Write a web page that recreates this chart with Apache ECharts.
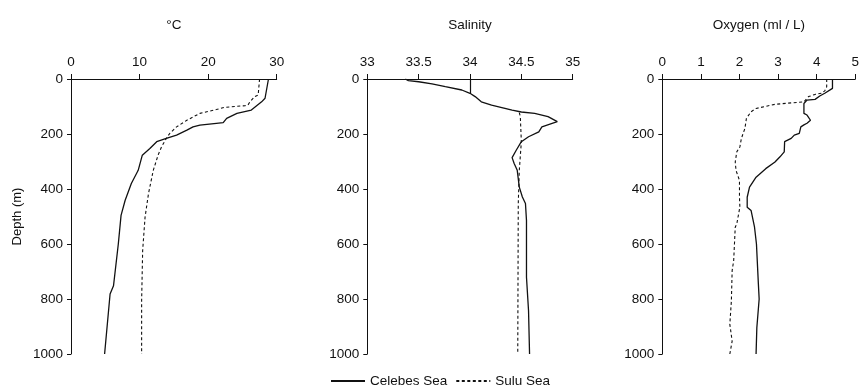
<!DOCTYPE html>
<html>
<head>
<meta charset="utf-8">
<script src="https://cdn.jsdelivr.net/npm/echarts@6/dist/echarts.min.js"></script>
<style>html,body{margin:0;padding:0;background:#fff;}#c{width:862px;height:386px;}</style>
</head>
<body>
<div id="c"></div>
<script>
// Depth axis ticks
var depthTicks = [0, 200, 400, 600, 800, 1000];

// Temperature (°C)
var celebesTempDepth = [0, 70, 83, 113, 118, 125, 143, 159, 161, 168, 174, 186, 204, 216, 228, 253, 277, 332, 380, 441, 496, 600, 752, 782, 1000];
var celebesTemp      = [28.8, 28.3, 27.8, 26.3, 26.1, 24.2, 22.7, 22.2, 21.2, 18.8, 17.8, 16.9, 15.4, 13.9, 12.5, 11.5, 10.4, 9.8, 8.8, 7.9, 7.3, 6.9, 6.2, 5.7, 4.9];
var suluTempDepth = [0, 58, 64, 83, 95, 97, 103, 111, 125, 150, 174, 198, 216, 247, 277, 332, 417, 503, 624, 807, 1000];
var suluTemp      = [27.5, 27.3, 26.8, 26.1, 25.8, 25.4, 22.4, 21.2, 18.8, 16.9, 15.4, 14.4, 13.9, 13.2, 12.7, 12.0, 11.3, 10.8, 10.45, 10.3, 10.3];

// Salinity
var celebesSalDepth = [0, 6, 10, 18, 28, 40, 52, 64, 83, 95, 104, 113, 120, 125, 137, 155, 174, 192, 210, 228, 259, 286, 307, 332, 393, 400, 429, 453, 514, 721, 843, 1000];
var celebesSal      = [33.37, 33.40, 33.50, 33.63, 33.76, 33.92, 34.00, 34.05, 34.11, 34.21, 34.31, 34.41, 34.50, 34.63, 34.76, 34.85, 34.70, 34.67, 34.57, 34.50, 34.45, 34.41, 34.43, 34.46, 34.48, 34.49, 34.51, 34.54, 34.55, 34.55, 34.57, 34.58];
var suluSalDepth = [122, 137, 228, 332, 453, 1000];
var suluSal      = [34.48, 34.49, 34.50, 34.48, 34.47, 34.465];

// Oxygen (ml / L)
var celebesOxyDepth = [0, 34, 40, 52, 62, 74, 77, 89, 125, 131, 150, 161, 167, 174, 198, 204, 216, 228, 265, 283, 302, 326, 357, 393, 430, 466, 478, 539, 600, 746, 800, 904, 1000];
var celebesOxy      = [4.41, 4.41, 4.37, 4.21, 4.08, 3.96, 3.75, 3.67, 3.67, 3.75, 3.84, 3.75, 3.67, 3.59, 3.55, 3.42, 3.34, 3.17, 3.16, 3.05, 2.92, 2.68, 2.43, 2.26, 2.20, 2.20, 2.30, 2.39, 2.44, 2.49, 2.51, 2.45, 2.43];
var suluOxyDepth = [0, 28, 43, 52, 56, 64, 83, 89, 92, 107, 119, 143, 180, 216, 247, 265, 302, 332, 369, 430, 466, 527, 539, 660, 697, 807, 892, 953, 1000];
var suluOxy      = [4.26, 4.26, 4.21, 4.12, 3.96, 3.79, 3.67, 3.63, 2.92, 2.43, 2.30, 2.18, 2.14, 2.05, 2.01, 1.93, 1.89, 1.91, 2.00, 2.00, 2.01, 1.93, 1.89, 1.85, 1.81, 1.79, 1.75, 1.81, 1.75];

function pairs(vals, depths) {
  return vals.map(function (v, i) { return [v, depths[i]]; });
}

var FONT = "'Liberation Sans', Arial, Helvetica, sans-serif";
var INK = '#111';
var labelStyle = { color: INK, fontSize: 13.5, fontFamily: FONT, formatter: function (v) { return String(v); } };

function xAx(idx, name, min, max, interval) {
  return {
    gridIndex: idx, type: 'value', position: 'top', min: min, max: max, interval: interval,
    name: name, nameLocation: 'middle', nameGap: 47,
    nameTextStyle: { color: INK, fontSize: 13.5, fontFamily: FONT },
    axisLine: { show: true, onZero: false, lineStyle: { color: INK, width: 1 } },
    axisTick: { show: true, inside: false, length: 5, lineStyle: { color: INK } },
    axisLabel: Object.assign({ margin: 10 }, labelStyle),
    splitLine: { show: false }
  };
}
function yAx(idx, showName) {
  return {
    gridIndex: idx, type: 'value', inverse: true, min: depthTicks[0], max: depthTicks[depthTicks.length - 1], interval: 200,
    name: showName ? 'Depth (m)' : '', nameLocation: 'middle', nameGap: 47,
    nameTextStyle: { color: INK, fontSize: 13, fontFamily: FONT },
    axisLine: { show: true, onZero: false, lineStyle: { color: INK, width: 1 } },
    axisTick: { show: true, inside: false, length: 4, lineStyle: { color: INK } },
    axisLabel: Object.assign({ margin: 8 }, labelStyle),
    splitLine: { show: false }
  };
}
function ser(name, idx, data, dashed, extra) {
  var s = {
    name: name, type: 'line', xAxisIndex: idx, yAxisIndex: idx, data: data,
    symbol: 'none', smooth: false, animation: false,
    lineStyle: { color: INK, width: dashed ? 1.1 : 1.3, type: dashed ? [3, 2.5] : 'solid' },
    itemStyle: { color: INK }
  };
  return Object.assign(s, extra || {});
}

var chart = echarts.init(document.getElementById('c'), null, { renderer: 'canvas' });
chart.setOption({
  backgroundColor: '#fff',
  animation: false,
  textStyle: { fontFamily: FONT },
  grid: [
    { left: 71, top: 79, width: 205.7, height: 275 },
    { left: 367.3, top: 79, width: 205.4, height: 275 },
    { left: 662.3, top: 79, width: 201.2, height: 275 }
  ],
  xAxis: [
    xAx(0, '°C', 0, 30, 10),
    xAx(1, 'Salinity', 33, 35, 0.5),
    xAx(2, 'Oxygen (ml / L)', 0, 5, 1)
  ],
  yAxis: [yAx(0, true), yAx(1, false), yAx(2, false)],
  legend: {
    left: 330, top: 374, padding: 0, itemWidth: 34, itemHeight: 12, itemGap: 8,
    itemStyle: { opacity: 0, borderWidth: 0 },
    textStyle: { color: INK, fontSize: 13.5, fontFamily: FONT },
    data: ['Celebes Sea', 'Sulu Sea']
  },
  series: [
    ser('Celebes Sea', 0, pairs(celebesTemp, celebesTempDepth), false),
    ser('Sulu Sea', 0, pairs(suluTemp, suluTempDepth), true),
    ser('Celebes Sea', 1, pairs(celebesSal, celebesSalDepth), false, {
      markLine: {
        silent: true, symbol: 'none', label: { show: false },
        lineStyle: { color: INK, width: 1.2, type: 'solid' },
        data: [[{ coord: [34, 0] }, { coord: [34, 52] }]]
      }
    }),
    ser('Sulu Sea', 1, pairs(suluSal, suluSalDepth), true),
    ser('Celebes Sea', 2, pairs(celebesOxy, celebesOxyDepth), false),
    ser('Sulu Sea', 2, pairs(suluOxy, suluOxyDepth), true)
  ]
});
</script>
</body>
</html>
